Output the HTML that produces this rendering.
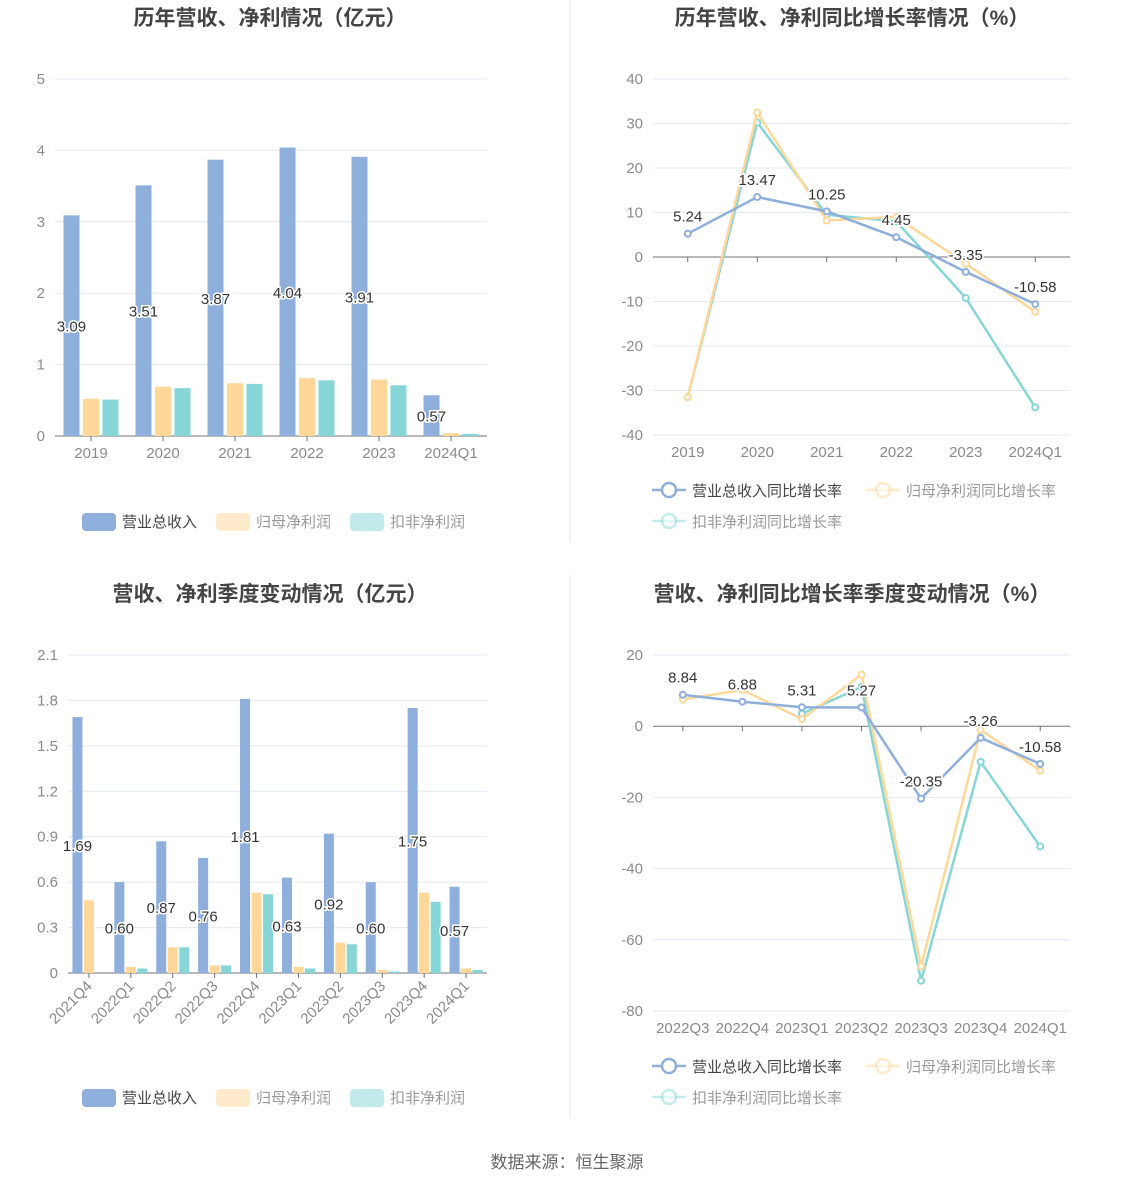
<!DOCTYPE html>
<html><head><meta charset="utf-8">
<style>
body{margin:0;background:#fff;font-family:"Liberation Sans","Noto Sans CJK SC",sans-serif;}
svg{display:block}
</style></head>
<body>
<svg id="s" width="1134" height="1188" xmlns="http://www.w3.org/2000/svg" font-family="Liberation Sans, Noto Sans CJK SC, sans-serif"></svg>
<script>
// ---- data ----
const yearCats = ["2019","2020","2021","2022","2023","2024Q1"];
const yearRevenue = [3.09,3.51,3.87,4.04,3.91,0.57];
const yearNetProfit = [0.52,0.69,0.74,0.81,0.79,0.04];
const yearDeductProfit = [0.51,0.67,0.73,0.78,0.71,0.03];
const yearTicks = [0,1,2,3,4,5];

const yoyRevenue = [5.24,13.47,10.25,4.45,-3.35,-10.58];
const yoyNetProfit = [-31.5,32.5,8.2,9.0,-1.5,-12.3];
const yoyDeduct = [-31.5,30.2,9.5,8.0,-9.2,-33.8];
const yoyTicks = [-40,-30,-20,-10,0,10,20,30,40];

const qCats = ["2021Q4","2022Q1","2022Q2","2022Q3","2022Q4","2023Q1","2023Q2","2023Q3","2023Q4","2024Q1"];
const qRevenue = [1.69,0.60,0.87,0.76,1.81,0.63,0.92,0.60,1.75,0.57];
const qNetProfit = [0.48,0.04,0.17,0.05,0.53,0.04,0.20,0.02,0.53,0.03];
const qDeduct = [0.0,0.03,0.17,0.05,0.52,0.03,0.19,0.01,0.47,0.02];
const qTicks = [0,0.3,0.6,0.9,1.2,1.5,1.8,2.1];

const qyCats = ["2022Q3","2022Q4","2023Q1","2023Q2","2023Q3","2023Q4","2024Q1"];
const qyRevenue = [8.84,6.88,5.31,5.27,-20.35,-3.26,-10.58];
const qyNetProfit = [7.5,10.2,2.0,14.5,-67.5,-1.0,-12.5];
const qyDeduct = [null,null,3.5,11.0,-71.5,-10.0,-33.8];
const qyTicks = [-80,-60,-40,-20,0,20];

const C = {blue:"#8eaedb",orange:"#ffd899",teal:"#86d6d8",grid:"#e3e8f3",axis:"#6e7079",tick:"#8a8a8a"};
const NS="http://www.w3.org/2000/svg";
const svg=document.getElementById('s');
function el(tag,attrs,parent,name,inter){
  const e=document.createElementNS(NS,tag);
  for(const k in attrs)e.setAttribute(k,attrs[k]);
  
  
  (parent||svg).appendChild(e);return e;
}
function txt(x,y,s,attrs,name,parent){
  const t=el('text',Object.assign({x:x,y:y},attrs),parent,name);
  t.textContent=s;return t;
}
function axisY(min,max,top,bottom){return v=>bottom-(v-min)/(max-min)*(bottom-top);}

// titles
txt(270,25,"历年营收、净利情况（亿元）",{"font-size":21,"font-weight":"bold",fill:"#444","text-anchor":"middle"},"title-annual");
txt(852,25,"历年营收、净利同比增长率情况（%）",{"font-size":21,"font-weight":"bold",fill:"#444","text-anchor":"middle"},"title-annual-yoy");
txt(270,601,"营收、净利季度变动情况（亿元）",{"font-size":21,"font-weight":"bold",fill:"#444","text-anchor":"middle"},"title-quarterly");
txt(852,601,"营收、净利同比增长率季度变动情况（%）",{"font-size":21,"font-weight":"bold",fill:"#444","text-anchor":"middle"},"title-quarterly-yoy");
el('line',{x1:570,y1:0,x2:570,y2:542,stroke:"#e6e6e6"},null,"divider-top");
el('line',{x1:570,y1:575,x2:570,y2:1117,stroke:"#e6e6e6"},null,"divider-bottom");
txt(567,1168,"数据来源：恒生聚源",{"font-size":17,fill:"#666","text-anchor":"middle"},"source-note");

function grid(g,ticks,y,x0,x1,zeroDark,fmt){
  ticks.forEach(t=>{
    el('line',{x1:x0,x2:x1,y1:y(t),y2:y(t),stroke:(t===0&&zeroDark)?C.axis:C.grid,"stroke-width":1},g,"grid-line");
    txt(x0-10,y(t)+5,fmt?fmt(t):String(t),{"font-size":15,fill:C.tick,"text-anchor":"end"},"y-tick-label",g);
  });
}
function labelText(g,x,y,s){
  txt(x,y,s,{"font-size":15,fill:"#333","text-anchor":"middle",stroke:"#fff","stroke-width":3,"paint-order":"stroke"},"value-label",g);
}

function barChart(name,cats,series,ticks,x0,x1,top,bottom,bw,gapStep,labelsRot){
  const g=el('g',{},null,name);
  const y=axisY(ticks[0],ticks[ticks.length-1],top,bottom);
  grid(g,ticks,y,x0,x1,false,t=>t===0?"0":(Number.isInteger(t)&&ticks[1]>=1?String(t):t.toFixed(1)));
  const cw=(x1-x0)/cats.length;
  el('line',{x1:x0,x2:x1,y1:bottom,y2:bottom,stroke:C.axis},g,"x-axis");
  cats.forEach((c,i)=>{
    const cx=x0+cw*(i+0.5);
    el('line',{x1:cx,x2:cx,y1:bottom,y2:bottom+5,stroke:C.axis},g,"x-tick");
    series.forEach((s,j)=>{
      const v=s.vals[i]; if(v==null)return;
      const bx=cx+(j-1)*gapStep-bw/2;
      el('rect',{x:bx,y:y(v),width:bw,height:Math.max(0,bottom-y(v)),fill:s.color},g,"bar-"+s.key+"-"+c,true);
    });
    if(labelsRot){
      const t=txt(cx+4,bottom+14,c,{"font-size":15,fill:C.tick,"text-anchor":"end",transform:`rotate(-45 ${cx+4} ${bottom+14})`},"x-tick-label",g);
    } else txt(cx,bottom+22,c,{"font-size":15,fill:C.tick,"text-anchor":"middle"},"x-tick-label",g);
  });
  cats.forEach((c,i)=>{
    const cx=x0+cw*(i+0.5)-gapStep;
    const v=series[0].vals[i];
    labelText(g,cx,(y(v)+bottom)/2+6,v.toFixed(2));
  });
}

function lineChart(name,cats,series,ticks,x0,x1,top,bottom){
  const g=el('g',{},null,name);
  const y=axisY(ticks[0],ticks[ticks.length-1],top,bottom);
  grid(g,ticks,y,x0,x1,true);
  const cw=(x1-x0)/cats.length;
  const xs=i=>x0+cw*(i+0.5);
  cats.forEach((c,i)=>{
    el('line',{x1:xs(i),x2:xs(i),y1:y(0),y2:y(0)+5,stroke:C.axis},g,"x-tick");
    txt(xs(i),bottom+22,c,{"font-size":15,fill:C.tick,"text-anchor":"middle"},"x-tick-label",g);
  });
  series.slice().reverse().forEach(s=>{
    let d="";
    s.vals.forEach((v,i)=>{if(v==null)return;d+=(d?"L":"M")+xs(i)+","+y(v);});
    el('path',{d:d,fill:"none",stroke:s.color,"stroke-width":2.5},g,"line-"+s.key);
    s.vals.forEach((v,i)=>{if(v==null)return;
      el('circle',{cx:xs(i),cy:y(v),r:3,fill:"#fff",stroke:s.color,"stroke-width":2},g,"point-"+s.key,true);});
  });
  series[0].vals.forEach((v,i)=>labelText(g,xs(i),y(v)-12,v.toFixed(2)));
}

function legend(name,items,y,x){
  const g=el('g',{},null,name);
  items.forEach(it=>{
    const lg=el('g',{},g,"legend-entry",true);
    if(it.type==="bar"){
      el('rect',{x:it.x,y:it.y-8,width:34,height:18,rx:4,fill:it.color,opacity:it.on?1:0.5},lg,"legend-swatch");
      txt(it.x+40,it.y+6,it.label,{"font-size":15,fill:it.on?"#444":"#999"},"legend-label",lg);
    } else {
      el('line',{x1:it.x,x2:it.x+34,y1:it.y,y2:it.y,stroke:it.color,"stroke-width":2.5,opacity:it.on?1:0.5},lg,"legend-line");
      el('circle',{cx:it.x+17,cy:it.y,r:7,fill:"#fff",stroke:it.color,"stroke-width":2.5,opacity:it.on?1:0.5},lg,"legend-marker");
      txt(it.x+40,it.y+6,it.label,{"font-size":15,fill:it.on?"#444":"#999"},"legend-label",lg);
    }
  });
}

barChart("annual-bar-chart",yearCats,[
  {key:"revenue",color:C.blue,vals:yearRevenue},
  {key:"net-profit",color:C.orange,vals:yearNetProfit},
  {key:"deducted-profit",color:C.teal,vals:yearDeductProfit}],yearTicks,55,487,79,436,16,19.5,false);

lineChart("annual-yoy-chart",yearCats,[
  {key:"revenue-yoy",color:C.blue,vals:yoyRevenue},
  {key:"net-profit-yoy",color:C.orange,vals:yoyNetProfit},
  {key:"deducted-yoy",color:C.teal,vals:yoyDeduct}],yoyTicks,653,1070,79,435);

barChart("quarterly-bar-chart",qCats,[
  {key:"revenue",color:C.blue,vals:qRevenue},
  {key:"net-profit",color:C.orange,vals:qNetProfit},
  {key:"deducted-profit",color:C.teal,vals:qDeduct}],qTicks,68,487,655,973,10,11.5,true);

lineChart("quarterly-yoy-chart",qyCats,[
  {key:"revenue-yoy",color:C.blue,vals:qyRevenue},
  {key:"net-profit-yoy",color:C.orange,vals:qyNetProfit},
  {key:"deducted-yoy",color:C.teal,vals:qyDeduct}],qyTicks,653,1070,655,1011);

legend("annual-bar-legend",[
  {type:"bar",x:82,y:521,color:C.blue,label:"营业总收入",on:true},
  {type:"bar",x:216,y:521,color:C.orange,label:"归母净利润",on:false},
  {type:"bar",x:350,y:521,color:C.teal,label:"扣非净利润",on:false}]);
legend("quarterly-bar-legend",[
  {type:"bar",x:82,y:1097,color:C.blue,label:"营业总收入",on:true},
  {type:"bar",x:216,y:1097,color:C.orange,label:"归母净利润",on:false},
  {type:"bar",x:350,y:1097,color:C.teal,label:"扣非净利润",on:false}]);
legend("annual-yoy-legend",[
  {type:"line",x:652,y:490,color:C.blue,label:"营业总收入同比增长率",on:true},
  {type:"line",x:866,y:490,color:C.orange,label:"归母净利润同比增长率",on:false},
  {type:"line",x:652,y:521,color:C.teal,label:"扣非净利润同比增长率",on:false}]);
legend("quarterly-yoy-legend",[
  {type:"line",x:652,y:1066,color:C.blue,label:"营业总收入同比增长率",on:true},
  {type:"line",x:866,y:1066,color:C.orange,label:"归母净利润同比增长率",on:false},
  {type:"line",x:652,y:1097,color:C.teal,label:"扣非净利润同比增长率",on:false}]);
</script>
</body></html>
